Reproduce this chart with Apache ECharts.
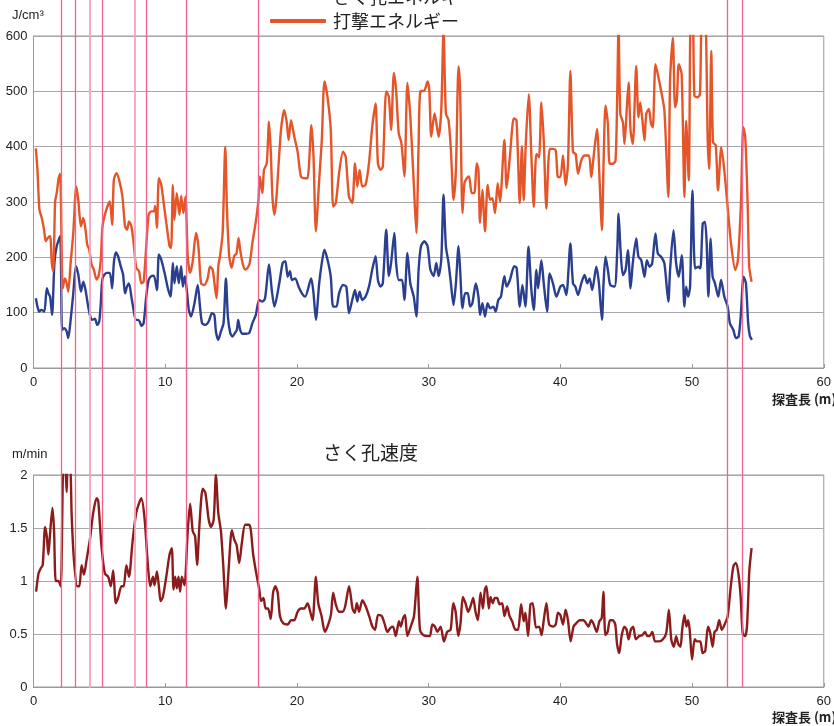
<!DOCTYPE html>
<html><head><meta charset="utf-8">
<script src="https://cdn.jsdelivr.net/npm/echarts@6/dist/echarts.min.js"></script>
<style>html,body{margin:0;padding:0;background:#fff}#c{width:834px;height:726px}</style>
</head><body><div id="c"></div>
<script>
// ---- data ----
const xTicks = [0, 10, 20, 30, 40, 50, 60];
const boundaryDepths = [2.08, 3.19, 5.18, 8.56, 11.53, 17.02, 52.47, 53.6];
const boundaryDepthsLight = [4.27, 7.65];

const strikeDepth = [0.18,0.3,0.45,0.63,0.8,0.93,1.08,1.26,1.39,1.5,1.64,1.76,1.91,2.02,2.22,2.39,2.52,2.64,2.82,3.02,3.25,3.4,3.6,3.78,3.95,4.08,4.23,4.41,4.58,4.79,4.94,5.11,5.24,5.49,5.79,5.97,6.1,6.3,6.5,6.75,6.95,7.1,7.25,7.43,7.6,7.8,8.01,8.19,8.36,8.56,8.74,8.94,9.14,9.24,9.37,9.52,9.7,9.95,10.15,10.33,10.45,10.58,10.7,10.88,11.08,11.21,11.39,11.54,11.71,11.89,12.09,12.34,12.52,12.72,12.97,13.22,13.4,13.6,13.8,13.9,14.03,14.16,14.36,14.56,14.69,14.86,15.04,15.24,15.42,15.57,15.69,15.87,16.07,16.25,16.42,16.62,16.88,17.08,17.18,17.38,17.5,17.71,17.88,18.01,18.14,18.29,18.79,19.04,19.22,19.37,19.55,19.8,20.05,20.3,20.55,20.8,21.1,21.26,21.44,21.69,21.89,22.09,22.32,22.57,22.75,22.95,23.2,23.5,23.7,23.95,24.2,24.41,24.58,24.76,24.96,25.21,25.47,25.72,25.97,26.15,26.35,26.52,26.78,26.98,27.15,27.36,27.53,27.73,27.93,28.16,28.39,28.61,28.87,29.07,29.24,29.37,29.67,29.92,30.05,30.2,30.45,30.63,30.76,30.96,31.13,31.31,31.51,31.69,31.89,32.07,32.27,32.39,32.57,32.72,32.9,33.07,33.27,33.47,33.65,33.78,33.9,34.08,34.28,34.48,34.66,34.84,35.04,35.24,35.42,35.75,35.92,36.17,36.47,36.67,36.92,37.08,37.22,37.37,37.6,37.8,37.98,38.18,38.38,38.56,38.74,38.94,39.19,39.44,39.65,39.82,40.0,40.2,40.4,40.58,40.76,40.96,41.16,41.34,41.59,41.84,42.17,42.35,42.47,42.78,42.98,43.16,43.28,43.43,43.61,43.74,43.99,44.19,44.32,44.42,44.55,44.75,44.87,45.05,45.18,45.33,45.5,45.76,45.93,46.06,46.21,46.39,46.52,46.72,46.89,47.02,47.22,47.4,47.65,47.9,48.2,48.33,48.54,48.71,48.84,48.99,49.21,49.42,49.55,49.75,49.9,50.05,50.18,50.43,50.6,50.76,50.99,51.19,51.3,51.46,51.59,51.8,51.97,52.22,52.45,52.7,52.96,53.28,53.48,53.71,53.89,54.04,54.22,54.34,54.52];
const strikeEnergy = [397,358,286,271,250,229,235,238,190,175,300,316,343,351,144,162,153,138,190,244,328,304,256,271,250,223,214,187,178,160,166,196,256,283,301,259,340,352,340,310,256,250,265,256,226,181,175,153,156,220,277,283,283,293,253,343,331,286,250,220,217,331,268,316,277,311,280,310,202,172,193,244,220,153,150,162,183,178,141,126,183,202,244,400,286,202,181,202,208,235,214,190,178,181,190,226,265,304,346,316,358,370,445,394,310,277,430,466,445,412,448,418,391,346,343,343,439,382,247,340,412,518,490,430,292,298,352,391,382,310,298,370,328,358,328,331,370,436,478,370,358,364,500,490,430,533,502,424,407,346,515,454,334,244,406,500,501,518,502,418,460,436,418,466,610,460,448,394,304,358,545,502,280,334,343,346,316,316,370,358,262,322,247,331,304,307,280,334,301,412,325,382,451,448,298,401,303,402,495,384,291,387,381,480,411,288,396,396,393,345,345,384,330,369,537,390,387,351,375,384,384,345,369,432,339,249,369,474,441,369,369,375,495,620,459,444,405,471,516,429,405,546,453,480,453,411,459,468,441,435,549,531,501,465,309,519,597,471,483,549,531,309,447,339,640,640,492,489,495,640,640,411,360,573,408,402,321,399,357,291,225,177,195,297,435,417,297,183,156];

const drillDepth = [0.18,0.3,0.43,0.58,0.7,0.83,1.01,1.13,1.26,1.41,1.59,1.76,2.02,2.17,2.32,2.52,2.64,2.82,3.02,3.22,3.4,3.6,3.78,3.95,4.11,4.28,4.46,4.66,4.84,4.99,5.11,5.24,5.54,5.79,5.97,6.1,6.25,6.42,6.62,6.8,6.95,7.1,7.25,7.43,7.6,7.76,7.93,8.06,8.19,8.36,8.56,8.74,8.94,9.14,9.37,9.52,9.7,9.95,10.2,10.4,10.58,10.7,10.88,11.03,11.21,11.34,11.49,11.64,11.79,11.96,12.22,12.47,12.64,12.8,13.05,13.3,13.55,13.73,13.85,14.03,14.23,14.43,14.61,14.76,14.94,15.11,15.29,15.44,15.54,15.69,15.87,16.12,16.37,16.62,16.88,17.13,17.38,17.58,17.88,18.09,18.29,18.66,18.92,19.12,19.3,19.47,19.62,19.87,20.13,20.38,20.63,21.08,21.26,21.44,21.69,21.89,22.09,22.32,22.57,22.75,23.0,23.2,23.5,23.75,23.95,24.2,24.41,24.58,24.76,24.96,25.21,25.47,25.72,25.97,26.15,26.35,26.52,26.78,26.98,27.15,27.4,27.53,27.73,27.98,28.16,28.39,28.61,28.87,29.07,29.24,29.42,29.67,29.92,30.13,30.38,30.58,30.76,30.96,31.13,31.31,31.51,31.69,31.89,32.07,32.27,32.39,32.57,32.77,32.97,33.15,33.32,33.58,33.78,33.9,34.08,34.28,34.48,34.66,34.91,35.09,35.29,35.49,35.75,35.92,36.17,36.5,36.68,36.92,37.12,37.35,37.58,37.8,37.98,38.18,38.31,38.56,38.74,38.99,39.19,39.44,39.7,40.0,40.2,40.45,40.76,40.96,41.14,41.34,41.59,41.84,42.05,42.22,42.42,42.73,42.93,43.16,43.28,43.43,43.61,43.79,44.12,44.32,44.42,44.57,44.75,44.95,45.13,45.33,45.5,45.76,45.93,46.14,46.39,46.57,46.77,46.97,47.22,47.4,47.65,47.9,48.2,48.33,48.59,48.79,48.99,49.22,49.42,49.55,49.7,49.85,50.03,50.23,50.48,50.63,50.81,50.98,51.11,51.24,51.41,51.56,51.74,51.99,52.2,52.45,52.7,52.87,53.13,53.33,53.54,53.71,53.91,54.09,54.26,54.39,54.55];
const drillEnergy = [126,111,102,105,104,102,144,135,129,96,190,220,238,69,72,66,54,87,135,184,169,138,156,141,117,96,87,89,78,84,117,162,172,172,144,190,209,202,184,169,135,147,153,129,105,87,87,84,76,81,129,159,166,167,141,205,196,172,144,129,190,153,184,153,184,147,166,141,105,93,117,150,111,81,78,84,99,96,66,51,66,81,162,93,63,57,63,69,87,69,62,62,63,81,96,123,120,126,187,141,111,153,190,193,165,175,159,162,147,135,129,162,135,87,153,190,214,196,165,111,111,135,150,147,99,123,141,120,138,123,129,147,178,202,159,147,153,250,166,190,244,190,159,159,123,208,153,129,93,178,220,229,220,178,166,190,166,196,313,220,190,153,114,153,220,178,108,135,135,111,117,153,129,96,117,93,117,108,111,102,123,129,166,147,159,184,181,111,150,111,219,141,105,177,144,195,153,102,171,153,129,147,150,132,225,153,147,132,153,168,153,162,141,183,153,87,153,201,177,150,147,213,279,213,168,177,213,144,189,234,201,195,165,195,183,189,243,207,201,189,120,177,249,189,165,204,111,147,129,147,321,180,183,180,261,264,225,129,234,165,153,129,159,129,111,81,69,54,57,99,165,153,81,58,51];

const speedDepth = [0.2,0.38,0.55,0.7,0.88,1.01,1.13,1.26,1.44,1.56,1.69,1.89,2.07,2.27,2.39,2.52,2.6,2.77,2.9,3.07,3.32,3.48,3.65,3.83,4.03,4.28,4.53,4.79,4.91,5.16,5.42,5.67,5.87,6.05,6.25,6.42,6.68,6.85,7.05,7.25,7.51,7.81,8.19,8.44,8.69,8.87,9.07,9.19,9.37,9.52,9.65,9.82,10.08,10.33,10.5,10.63,10.76,10.88,11.01,11.13,11.26,11.46,11.71,11.89,12.09,12.27,12.42,12.6,12.85,13.05,13.3,13.48,13.68,13.85,14.03,14.23,14.41,14.61,14.81,15.06,15.24,15.42,15.62,15.82,16.07,16.37,16.5,16.68,16.93,17.13,17.28,17.46,17.63,17.81,18.01,18.19,18.36,18.54,18.71,18.97,19.3,19.55,19.8,20.05,20.3,20.56,20.81,21.01,21.19,21.44,21.62,21.87,22.12,22.32,22.58,22.75,22.95,23.2,23.46,23.66,23.96,24.22,24.39,24.55,24.72,24.97,25.23,25.48,25.73,25.93,26.16,26.44,26.67,26.87,27.12,27.3,27.5,27.75,27.88,28.06,28.21,28.38,28.64,28.89,29.14,29.34,29.6,29.9,30.1,30.28,30.48,30.66,30.91,31.16,31.41,31.67,31.87,32.05,32.25,32.42,32.6,32.8,33.0,33.18,33.38,33.56,33.74,33.94,34.12,34.27,34.39,34.57,34.7,34.87,35.03,35.2,35.38,35.58,35.76,35.96,36.14,36.34,36.59,36.79,37.02,37.22,37.35,37.55,37.73,37.9,38.15,38.39,38.57,38.74,38.94,39.15,39.45,39.65,39.82,40.0,40.2,40.4,40.58,40.78,41.0,41.2,41.46,41.76,41.96,42.14,42.34,42.51,42.76,42.96,43.14,43.27,43.42,43.59,43.77,43.97,44.17,44.3,44.47,44.65,44.85,45.03,45.18,45.35,45.53,45.73,45.98,46.23,46.43,46.61,46.78,46.98,47.19,47.49,47.79,48.04,48.24,48.42,48.62,48.79,48.94,49.12,49.25,49.42,49.57,49.7,49.82,50.0,50.2,50.38,50.63,50.8,51.0,51.21,51.38,51.56,51.71,51.88,52.06,52.26,52.51,52.71,52.94,53.14,53.32,53.52,53.69,53.84,54.02,54.17,54.35,54.52];
const speedValue = [0.9,1.07,1.12,1.15,1.51,1.42,1.25,1.45,1.69,1.48,1.0,1.0,0.95,2.1,2.1,1.84,2.1,2.1,1.61,1.2,0.95,0.95,1.15,1.06,1.2,1.39,1.64,1.78,1.76,1.33,1.07,1.04,0.95,1.1,0.79,0.84,0.95,0.95,1.15,1.04,1.36,1.65,1.78,1.58,1.14,0.95,1.04,0.96,1.09,0.95,0.81,0.85,1.04,1.25,1.31,0.92,1.04,0.93,1.04,0.9,1.04,0.96,1.47,1.73,1.47,1.42,1.15,1.53,1.87,1.83,1.58,1.51,1.58,2.0,1.64,1.47,1.14,0.74,1.1,1.48,1.39,1.34,1.17,1.36,1.53,1.53,1.48,1.25,1.06,0.93,0.81,0.84,0.74,0.74,0.64,0.89,0.95,0.89,0.67,0.6,0.59,0.63,0.63,0.71,0.74,0.74,0.79,0.71,0.63,1.04,0.79,0.67,0.52,0.57,0.68,0.89,0.78,0.71,0.71,0.76,0.95,0.74,0.7,0.79,0.71,0.82,0.76,0.67,0.57,0.54,0.68,0.67,0.59,0.52,0.56,0.57,0.48,0.62,0.57,0.65,0.68,0.48,0.57,0.67,1.04,0.54,0.49,0.48,0.48,0.59,0.57,0.52,0.57,0.43,0.52,0.54,0.79,0.71,0.48,0.6,0.85,0.79,0.71,0.76,0.84,0.71,0.63,0.89,0.74,0.92,0.95,0.74,0.85,0.79,0.84,0.84,0.78,0.79,0.67,0.76,0.67,0.62,0.54,0.54,0.78,0.62,0.7,0.48,0.78,0.79,0.56,0.57,0.49,0.63,0.79,0.59,0.57,0.59,0.7,0.68,0.59,0.73,0.63,0.43,0.57,0.6,0.63,0.63,0.6,0.57,0.63,0.6,0.52,0.62,0.65,0.9,0.49,0.52,0.63,0.63,0.59,0.41,0.32,0.48,0.57,0.54,0.45,0.54,0.57,0.45,0.48,0.49,0.52,0.48,0.48,0.52,0.43,0.43,0.45,0.51,0.73,0.45,0.38,0.48,0.41,0.38,0.54,0.68,0.57,0.63,0.54,0.26,0.45,0.43,0.43,0.32,0.34,0.57,0.51,0.38,0.52,0.54,0.63,0.54,0.6,0.67,0.95,1.14,1.17,1.07,0.85,0.51,0.48,0.57,1.1,1.31];

// ---- build ----
const zip = (a, b) => a.map((v, i) => [v, b[i]]);
const NUM = "'Liberation Sans', Arial, sans-serif";
const JP = "'Noto Sans CJK JP', sans-serif";
const L = 33.5, R = 7;

const chart = echarts.init(document.getElementById('c'), null, {renderer: 'canvas'});

function xAx(gi) {
  return {
    type: 'value', gridIndex: gi, min: 0, max: 60, interval: 10,
    axisLine: {show: true, lineStyle: {color: '#9a9a9a', width: 1}},
    axisTick: {show: true, inside: true, length: 4, lineStyle: {color: '#9a9a9a'}},
    axisLabel: {color: '#222', fontSize: 13, fontFamily: NUM, margin: 8,
      formatter: v => xTicks.includes(v) ? String(v) : ''},
    splitLine: {show: false}
  };
}
function yAx(gi, max, interval) {
  return {
    type: 'value', gridIndex: gi, min: 0, max: max, interval: interval,
    axisLine: {show: true, lineStyle: {color: '#9a9a9a', width: 1}},
    axisTick: {show: false},
    axisLabel: {color: '#222', fontSize: 13, fontFamily: NUM, margin: 6},
    splitLine: {show: true, lineStyle: {color: '#a8a8a8', width: 1}}
  };
}

const mkLines = (arr, color, w) => arr.map(v => ({xAxis: v, lineStyle: {color: color, width: w, type: 'solid'}}));

chart.setOption({
  animation: false,
  backgroundColor: '#fff',
  title: [
    {text: 'さく孔エネルギー', left: 328, top: -17, textStyle: {fontFamily: JP, fontSize: 18, fontWeight: 'normal', color: '#222'}},
    {text: 'J/cm³', left: 7, top: 4, textStyle: {fontFamily: NUM, fontSize: 13, fontWeight: 'normal', color: '#222'}},
    {text: 'm/min', left: 7, top: 443, textStyle: {fontFamily: NUM, fontSize: 13, fontWeight: 'normal', color: '#222'}},
    {text: 'さく孔速度', left: 318, top: 438, textStyle: {fontFamily: JP, fontSize: 19, fontWeight: 'normal', color: '#222'}},
    {text: '探査長 (m)', left: 767, top: 388, textStyle: {fontFamily: JP, fontSize: 13, fontWeight: 'bold', color: '#222'}},
    {text: '探査長 (m)', left: 767, top: 706, textStyle: {fontFamily: JP, fontSize: 13, fontWeight: 'bold', color: '#222'}}
  ],
  legend: {
    data: ['打撃エネルギー'], left: 265, top: 7, itemWidth: 56, itemHeight: 4, itemGap: 8,
    icon: 'roundRect',
    textStyle: {fontFamily: JP, fontSize: 18, color: '#222', padding: [0, 0, 0, 2]}
  },
  grid: [
    {left: L, right: R, top: 36, height: 332, show: true, borderColor: '#9a9a9a', borderWidth: 1, backgroundColor: 'transparent'},
    {left: L, right: R, top: 475, height: 212, show: true, borderColor: '#9a9a9a', borderWidth: 1, backgroundColor: 'transparent'},
    {left: L, right: R, top: 0, height: 688, show: false}
  ],
  xAxis: [xAx(0), xAx(1),
    {type: 'value', gridIndex: 2, min: 0, max: 60, show: false}],
  yAxis: [yAx(0, 600, 100), yAx(1, 2, 0.5),
    {type: 'value', gridIndex: 2, min: 0, max: 1, show: false}],
  series: [
    {
      type: 'scatter', xAxisIndex: 2, yAxisIndex: 2, data: [[0, -1]], symbolSize: 0, silent: true, z: 1,
      markLine: {
        silent: true, symbol: ['none', 'none'], label: {show: false}, animation: false,
        data: mkLines(boundaryDepths, '#f0648c', 1.3).concat(mkLines(boundaryDepthsLight, '#f5a3bd', 1.8))
      }
    },
    {
      name: 'さく孔エネルギー', type: 'line', xAxisIndex: 0, yAxisIndex: 0,
      data: zip(drillDepth, drillEnergy), showSymbol: false, smooth: 0.25, z: 3,
      lineStyle: {color: '#2a3f8f', width: 2.4}, itemStyle: {color: '#2a3f8f'}
    },
    {
      name: '打撃エネルギー', type: 'line', xAxisIndex: 0, yAxisIndex: 0,
      data: zip(strikeDepth, strikeEnergy), showSymbol: false, smooth: 0.25, z: 4,
      lineStyle: {color: '#e5552a', width: 2.4}, itemStyle: {color: '#e5552a'}
    },
    {
      name: 'さく孔速度', type: 'line', xAxisIndex: 1, yAxisIndex: 1,
      data: zip(speedDepth, speedValue), showSymbol: false, smooth: 0.25, z: 3,
      lineStyle: {color: '#8c1c1c', width: 2.4}, itemStyle: {color: '#8c1c1c'}
    }
  ]
});
</script></body></html>
